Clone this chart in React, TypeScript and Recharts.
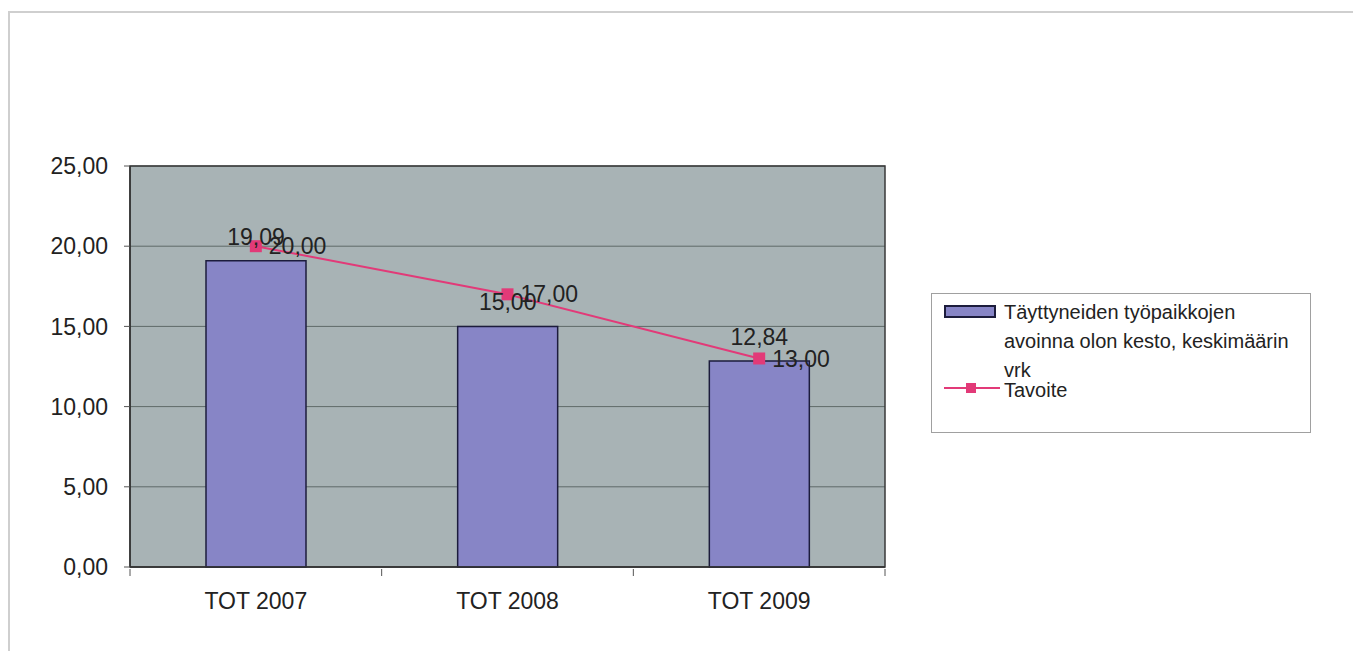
import React from "react";
import {
  ComposedChart,
  Bar,
  Line,
  XAxis,
  YAxis,
  CartesianGrid,
  LabelList,
  ReferenceArea,
} from "recharts";

const categories = ["TOT 2007", "TOT 2008", "TOT 2009"];
const durationValues = [19.09, 15.0, 12.84];
const targetValues = [20.0, 17.0, 13.0];
const yTicks = [0, 5, 10, 15, 20, 25];
const barSeriesNameLines = ["Täyttyneiden työpaikkojen", "avoinna olon kesto, keskimäärin", "vrk"];
const barSeriesName = barSeriesNameLines.join(" ");
const lineSeriesName = "Tavoite";

const data = categories.map((c, i) => ({
  name: c,
  duration: durationValues[i],
  target: targetValues[i],
}));

const FONT = '"Liberation Sans", Arial, sans-serif';
const BAR_FILL = "#8785C6";
const BAR_STROKE = "#1c1c3c";
const LINE_COLOR = "#E23A78";
const TEXT = "#222";
const FS = 23;

const fmt = (v: any) => Number(v).toFixed(2).replace(".", ",");

const SquareDot = (props: any) => {
  const { cx, cy } = props;
  if (cx == null || cy == null) return null;
  return <rect x={cx - 6} y={cy - 6} width={12} height={12} fill={LINE_COLOR} />;
};

const XTick = (props: any) => {
  const { x, y, payload, index, width, visibleTicksCount } = props;
  const band = (width || 755) / (visibleTicksCount || 3);
  const half = band / 2;
  return (
    <g>
      {index === 0 && (
        <line x1={x - half} x2={x - half} y1={y - 6} y2={y + 1} stroke="#555" strokeWidth={1} />
      )}
      <line x1={x + half} x2={x + half} y1={y - 6} y2={y + 1} stroke="#555" strokeWidth={1} />
      <text
        x={x}
        y={y + 26}
        textAnchor="middle"
        dominantBaseline="central"
        fontSize={FS}
        fontFamily={FONT}
        fill={TEXT}
      >
        {payload.value}
      </text>
    </g>
  );
};

export default function App() {
  return (
    <div style={{ position: "relative", width: 1350, height: 643, fontFamily: FONT }}>
      <div
        style={{
          position: "absolute",
          left: 0,
          top: 3,
          width: 1348,
          height: 660,
          border: "2px solid #cfcfcf",
          boxSizing: "border-box",
        }}
      />
      <div style={{ position: "absolute", left: 0, top: 0 }}>
        <ComposedChart
          width={1345}
          height={640}
          data={data}
          margin={{ top: 158, right: 468, bottom: 51, left: 52 }}
          barCategoryGap="30%"
        >
          <CartesianGrid
            vertical={false}
            stroke="#5f6a68"
            strokeWidth={1}
            fill="#A8B3B5"
            fillOpacity={1}
          />
          <ReferenceArea y1={0} y2={25} fill="none" stroke="#3a3a3a" strokeWidth={1.5} ifOverflow="visible" />
          <XAxis
            dataKey="name"
            axisLine={{ stroke: "#333", strokeWidth: 1.5 }}
            tickLine={false}
            tick={<XTick />}
            interval={0}
          />
          <YAxis
            domain={[0, 25]}
            ticks={yTicks}
            width={70}
            tickFormatter={fmt}
            tick={{ fontSize: FS, fill: TEXT, fontFamily: FONT }}
            tickSize={6}
            tickMargin={16}
            tickLine={{ stroke: "#555" }}
            axisLine={{ stroke: "#333", strokeWidth: 1.5 }}
            interval={0}
          />
          <Bar
            dataKey="duration"
            name={barSeriesName}
            fill={BAR_FILL}
            stroke={BAR_STROKE}
            strokeWidth={1.5}
            barSize={100}
            isAnimationActive={false}
          >
            <LabelList
              dataKey="duration"
              position="top"
              offset={16}
              formatter={fmt}
              fontSize={FS}
              fill={TEXT}
              fontFamily={FONT}
            />
          </Bar>
          <Line
            dataKey="target"
            name={lineSeriesName}
            stroke={LINE_COLOR}
            strokeWidth={2}
            dot={<SquareDot />}
            activeDot={false}
            isAnimationActive={false}
          >
            <LabelList
              dataKey="target"
              position="right"
              offset={13}
              formatter={fmt}
              fontSize={FS}
              fill={TEXT}
              fontFamily={FONT}
            />
          </Line>
        </ComposedChart>
      </div>
      <div
        style={{
          position: "absolute",
          left: 923,
          top: 285,
          width: 380,
          height: 140,
          border: "1.5px solid #a0a0a0",
          boxSizing: "border-box",
          background: "#fff",
        }}
      >
        <div
          style={{
            position: "absolute",
            left: 12,
            top: 11,
            width: 52,
            height: 13,
            background: BAR_FILL,
            border: `2px solid ${BAR_STROKE}`,
            boxSizing: "border-box",
          }}
        />
        {barSeriesNameLines.map((l, i) => (
          <div
            key={i}
            style={{
              position: "absolute",
              left: 72,
              top: 7 + i * 29,
              fontSize: 20,
              lineHeight: "22px",
              color: TEXT,
              whiteSpace: "nowrap",
            }}
          >
            {l}
          </div>
        ))}
        <svg style={{ position: "absolute", left: 12, top: 87 }} width={56} height={14}>
          <line x1={0} x2={56} y1={7} y2={7} stroke={LINE_COLOR} strokeWidth={2} />
          <rect x={22} y={2} width={10} height={10} fill={LINE_COLOR} />
        </svg>
        <div
          style={{
            position: "absolute",
            left: 72,
            top: 86,
            fontSize: 20,
            lineHeight: "20px",
            color: TEXT,
          }}
        >
          {lineSeriesName}
        </div>
      </div>
    </div>
  );
}
